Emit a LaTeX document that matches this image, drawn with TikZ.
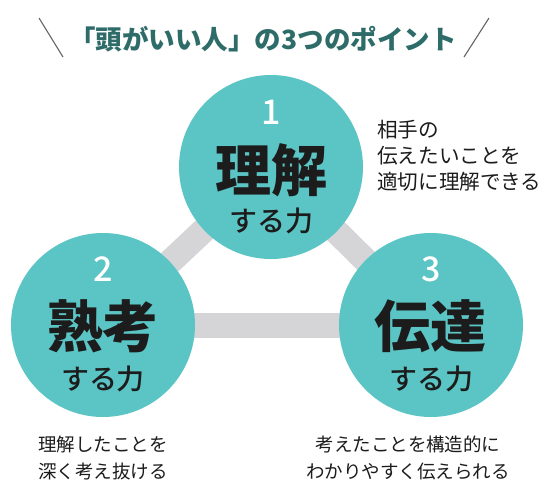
\documentclass[tikz,border=0pt]{standalone}
\usepackage{fontspec}
\setmainfont{Noto Sans CJK JP}
\newfontfamily\jpmed{Noto Sans CJK JP Medium}
\usetikzlibrary{backgrounds}
\definecolor{tealc}{RGB}{91,196,196}
\definecolor{barg}{RGB}{213,213,215}
\definecolor{ink}{RGB}{28,28,28}
\definecolor{titlec}{RGB}{46,108,106}
\definecolor{slashc}{RGB}{100,100,100}
\begin{document}
\begin{tikzpicture}[x=1pt,y=-1pt,
  circ/.style={circle,fill=tealc,minimum size=184pt,inner sep=0pt},
  bar/.style={line width=25pt,draw=barg},
  num/.style={text=white,inner sep=0pt,font=\jpmed\fontsize{34}{34}\selectfont},
  big/.style={text=ink,inner sep=0pt,font=\bfseries\fontsize{56}{56}\selectfont},
  sub/.style={text=ink,inner sep=0pt,font=\jpmed\fontsize{28}{28}\selectfont},
  desc/.style={text=ink,inner sep=0pt,font=\fontsize{18.5}{27}\selectfont},
  slash/.style={draw=slashc,line width=1.1pt},
  title/.style={text=titlec,inner sep=0pt,font=\bfseries\fontsize{26.5}{26.5}\selectfont}
]
\useasboundingbox (0,0) rectangle (550,499);

% title
\node[title] (title) at (263,39) {「頭がいい人」の3つのポイント};
\coordinate (l1) at (39,18);
\coordinate (l2) at (63,57);
\coordinate (r1) at (489,18);
\coordinate (r2) at (464,57);
\draw[slash] (l1) -- (l2);
\draw[slash] (r1) -- (r2);

% circles
\node[circ] (c1) at (271,167) {};
\node[circ] (c2) at (103,325) {};
\node[circ] (c3) at (431,325) {};

\begin{scope}[on background layer]
\fill[white] (0,0) rectangle (550,499);
\draw[bar] (c1.center) -- (c2.center);
\draw[bar] (c1.center) -- (c3.center);
\draw[bar] (c2.center) -- (c3.center);
\end{scope}

% circle texts
\node[num] (n1) at (271,112) {1};
\node[big] (b1) at (271,170) {理解};
\node[sub] (s1) at (271,221) {する力};

\node[num] (n2) at (103,269) {2};
\node[big] (b2) at (103,326) {熟考};
\node[sub] (s2) at (103,379) {する力};

\node[num] (n3) at (431,269) {3};
\node[big] (b3) at (430,326) {伝達};
\node[sub] (s3) at (431,379) {する力};

% descriptions
\node[desc,align=left,anchor=north west,font=\fontsize{20.6}{26}\selectfont] (d1) at (377,120) {相手の\\伝えたいことを\\適切に理解できる};
\node[desc,align=left,anchor=north west] (d2) at (38,436) {理解したことを\\深く考え抜ける};
\node[desc,align=center,anchor=north] (d3) at (408,436) {考えたことを構造的に\\わかりやすく伝えられる};
\end{tikzpicture}
\end{document}
